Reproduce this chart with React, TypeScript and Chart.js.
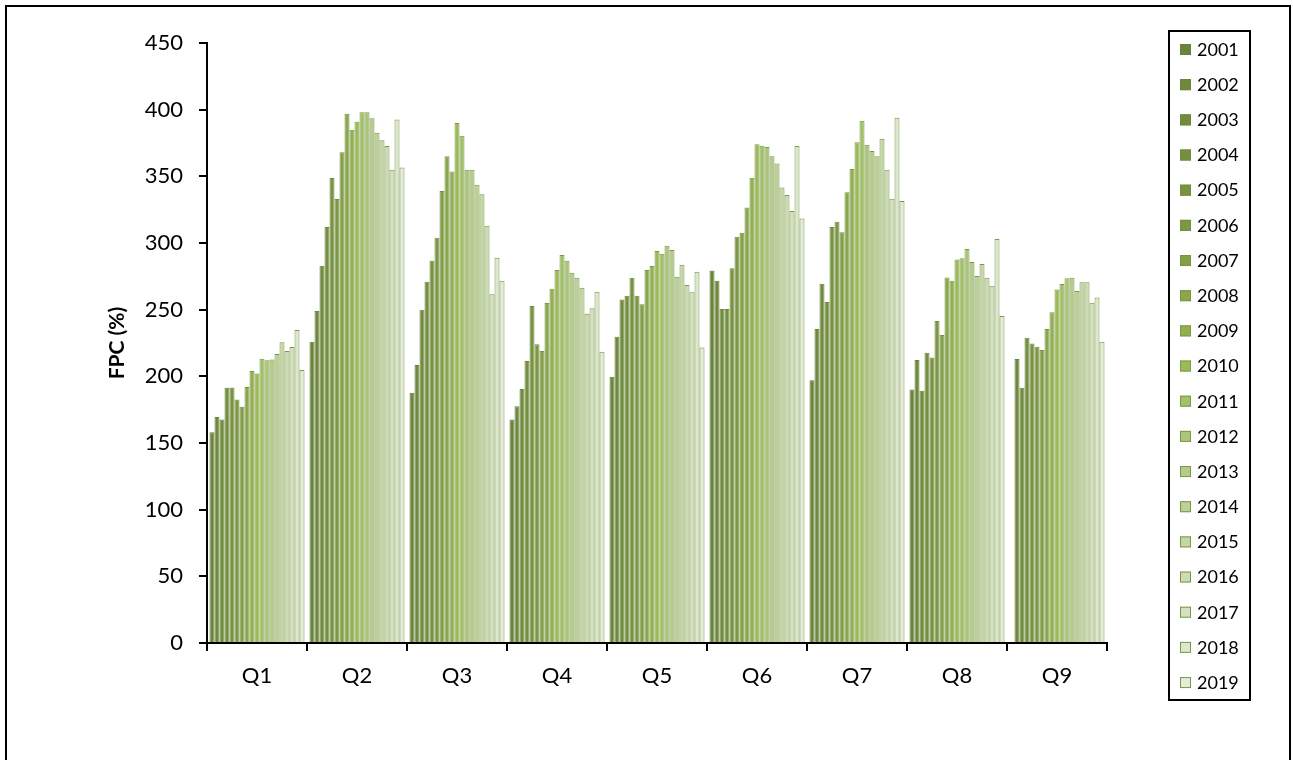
import React, { useEffect, useRef } from "react";
import { Chart, registerables } from "chart.js";

Chart.register(...registerables);

const categories = ["Q1", "Q2", "Q3", "Q4", "Q5", "Q6", "Q7", "Q8", "Q9"];
const years = ["2001", "2002", "2003", "2004", "2005", "2006", "2007", "2008", "2009", "2010", "2011", "2012", "2013", "2014", "2015", "2016", "2017", "2018", "2019"];

// values per quarter, ordered by year 2001..2019
const q1 = [158, 169.5, 167.7, 191.5, 191.7, 182.7, 177.2, 192, 204, 202.2, 213.2, 212, 212.6, 216.7, 225.5, 219, 222, 234.7, 204.7];
const q2 = [226, 249, 283, 312, 348.7, 333, 368, 397, 385, 391, 398, 398, 393.5, 382.7, 377, 372.7, 355, 392.7, 356.7];
const q3 = [187.7, 208.5, 250, 271, 286.7, 304, 339, 365, 353.7, 390, 380.5, 355, 355, 343.7, 336.5, 313, 261.5, 289, 271.7];
const q4 = [167.7, 177.5, 190.5, 211.5, 252.7, 224, 219, 255, 265.7, 279.7, 291, 286.7, 277.7, 274, 266.5, 247, 251, 263.5, 218.5];
const q5 = [199.7, 229.7, 257.7, 260.5, 274, 260.5, 254, 279.7, 282.7, 294, 292, 298, 294.7, 274.7, 283.7, 268.5, 263, 278.5, 221.7];
const q6 = [279.3, 271.7, 250.5, 250.5, 281, 304.7, 307.7, 326.7, 349, 374, 373, 372, 365, 359.7, 341.7, 336, 324, 372.7, 318.3];
const q7 = [197, 235.5, 269.5, 255.7, 312, 316, 308, 338, 355.5, 375.5, 391.7, 373.7, 369, 365, 378.2, 355, 333.2, 394, 331.5];
const q8 = [190.2, 212.2, 189.2, 217.7, 214.2, 241.5, 231, 274.2, 271.7, 287.7, 288.5, 295.5, 285.7, 275.2, 284.2, 274, 268, 303, 245.2];
const q9 = [null, 213, 191.5, 229, 224.7, 222.2, 219.7, 235.5, 248, 265.2, 269.2, 273.5, 274, 264, 270.5, 270.5, 255.2, 259.2, 226];

const yTicks = [0, 50, 100, 150, 200, 250, 300, 350, 400, 450];

const fills = ["#6a843a", "#6e883c", "#718c3e", "#758f40", "#799342", "#7d9845", "#839f48", "#8aa74d", "#92b052", "#9bbb59", "#a3c16a", "#abc67a", "#b4cc8a", "#bcd199", "#c4d7a7", "#ccdcb4", "#d4e2c1", "#dce7cd", "#e4ecd9"];
const borders = ["#66803a", "#6a843b", "#6d883c", "#70893d", "#738d3e", "#768f3f", "#789240", "#7a9541", "#7c9842", "#7e9a43", "#7d9944", "#7c9845", "#7b9746", "#7b9746", "#7b9746", "#7b9746", "#7b9746", "#7b9746", "#7b9746"];

const quarters = [q1, q2, q3, q4, q5, q6, q7, q8, q9];

const FONT = "Lato, 'Open Sans', 'DejaVu Sans', sans-serif";

const framePlugin = {
  id: "frameAndLegend",
  afterDraw(chart: any) {
    const ctx = chart.ctx;
    ctx.save();
    ctx.strokeStyle = "#000";
    ctx.lineWidth = 2;
    ctx.strokeRect(6, 6, 1284, 800);
    // legend box
    ctx.strokeRect(1169, 31, 81, 669);
    const ds = chart.data.datasets;
    ctx.font = `18px ${FONT}`;
    ctx.textBaseline = "middle";
    ctx.textAlign = "left";
    for (let i = 0; i < ds.length; i++) {
      const cy = 49 + i * 35.17;
      ctx.fillStyle = ds[i].backgroundColor;
      ctx.fillRect(1180, cy - 5, 11, 11);
      ctx.strokeStyle = ds[i].borderColor;
      ctx.lineWidth = 1;
      ctx.strokeRect(1180.5, cy - 4.5, 10, 10);
      ctx.fillStyle = "#000";
      ctx.fillText(ds[i].label, 1197, cy + 1);
    }
    ctx.restore();
  },
};

export default function App() {
  const ref = useRef<HTMLCanvasElement | null>(null);
  useEffect(() => {
    if (!ref.current) return;
    const datasets = years.map((y, i) => ({
      label: y,
      data: quarters.map((q) => q[i]),
      backgroundColor: fills[i],
      borderColor: borders[i],
      borderWidth: 1,
      categoryPercentage: 0.95,
      barPercentage: 1.0,
    }));
    const chart = new Chart(ref.current, {
      type: "bar",
      data: { labels: categories, datasets },
      options: {
        animation: false,
        responsive: false,
        maintainAspectRatio: false,
        layout: { padding: { left: 0, top: 43, right: 186, bottom: 57 } },
        plugins: { legend: { display: false }, tooltip: { enabled: false } },
        scales: {
          x: {
            grid: { display: true, drawOnChartArea: false, drawTicks: true, tickLength: 8, color: "#000", lineWidth: 2, offset: true },
            border: { display: true, color: "#000", width: 2 },
            ticks: { color: "#000", font: { family: FONT, size: 22 }, padding: 12 },
            afterFit: (s: any) => { s.height = 60; },
          },
          y: {
            min: 0,
            max: 450,
            afterBuildTicks: (s: any) => { s.ticks = yTicks.map((v) => ({ value: v })); },
            grid: { display: true, drawOnChartArea: false, drawTicks: true, tickLength: 8, color: "#000", lineWidth: 2 },
            border: { display: true, color: "#000", width: 2 },
            ticks: { color: "#000", font: { family: FONT, size: 22 }, padding: 16 },
            title: { display: true, text: "FPC (%)", color: "#000", font: { family: FONT, size: 21, weight: "bold" }, padding: { top: 105, bottom: 0 } },
            afterFit: (s: any) => { s.width = 207; },
          },
        },
      },
      plugins: [framePlugin],
    });
    return () => chart.destroy();
  }, []);
  return (
    <div style={{ position: "fixed", left: 0, top: 0, width: 1293, height: 760, background: "#fff", overflow: "hidden" }}>
      <canvas ref={ref} width={1293} height={760} style={{ width: 1293, height: 760, display: "block" }} />
    </div>
  );
}
